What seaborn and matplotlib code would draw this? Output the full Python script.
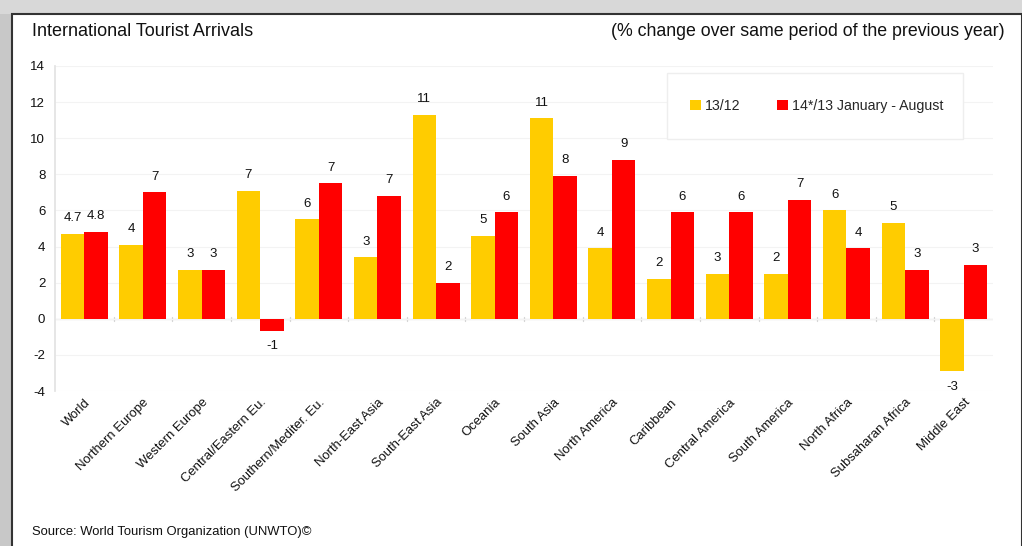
import matplotlib
matplotlib.use("Agg")
import matplotlib.pyplot as plt
import matplotlib.transforms as mtransforms
import seaborn as sns
import pandas as pd
from matplotlib.patches import Rectangle

categories = ["World", "Northern Europe", "Western Europe", "Central/Eastern Eu.",
              "Southern/Mediter. Eu.", "North-East Asia", "South-East Asia", "Oceania",
              "South Asia", "North America", "Caribbean", "Central America",
              "South America", "North Africa", "Subsaharan Africa", "Middle East"]
series_names = ["13/12", "14*/13 January - August"]
vals_1312 = [4.7, 4.1, 2.7, 7.1, 5.5, 3.4, 11.3, 4.6, 11.1, 3.9, 2.2, 2.5, 2.5, 6.0, 5.3, -2.9]
vals_1413 = [4.8, 7.0, 2.7, -0.65, 7.5, 6.8, 2.0, 5.9, 7.9, 8.8, 5.9, 5.9, 6.6, 3.9, 2.7, 3.0]
labels_1312 = ["4.7", "4", "3", "7", "6", "3", "11", "5", "11", "4", "2", "3", "2", "6", "5", "-3"]
labels_1413 = ["4.8", "7", "3", "-1", "7", "7", "2", "6", "8", "9", "6", "6", "7", "4", "3", "3"]
yticks = [-4, -2, 0, 2, 4, 6, 8, 10, 12, 14]

df = pd.DataFrame({
    "region": categories * 2,
    "series": [series_names[0]] * len(categories) + [series_names[1]] * len(categories),
    "value": vals_1312 + vals_1413,
})

sns.set_theme(style="white")
plt.rcParams["font.family"] = ["Liberation Sans", "DejaVu Sans"]

fig = plt.figure(figsize=(10.22, 5.46), dpi=100)
fig.patch.set_facecolor("white")

# screenshot-like frame with shadow
fig.add_artist(Rectangle((0, 0), 12 / 1022, 1, transform=fig.transFigure,
                         facecolor="#c8c8c8", edgecolor="none", zorder=-5))
fig.add_artist(Rectangle((0, 1 - 14 / 546), 1, 14 / 546, transform=fig.transFigure,
                         facecolor="#d8d8d8", edgecolor="none", zorder=-5))
fig.add_artist(Rectangle((12 / 1022, -0.01), 1010 / 1022, 1 - 14 / 546 + 0.01,
                         transform=fig.transFigure, facecolor="white",
                         edgecolor="#333333", linewidth=1.5, zorder=-4))

ax = fig.add_axes([55 / 1022, 1 - 391 / 546, (993 - 55) / 1022, (391 - 66) / 546])
ax.set_facecolor("none")
sns.barplot(data=df, x="region", y="value", hue="series", order=categories,
            hue_order=series_names, palette=["#FFCC00", "#FF0000"],
            width=0.8, saturation=1, ax=ax, edgecolor="none", legend=True)

for cont, labs in zip(ax.containers, [labels_1312, labels_1413]):
    ax.bar_label(cont, labels=labs, padding=7, fontsize=9.5, color="#111111")

ax.set_ylim(-4, 14)
ax.set_xlim(-0.5, len(categories) - 0.5)
ax.set_yticks(yticks)
ax.set_yticklabels([str(t) for t in yticks], fontsize=9.5, color="#111111")
ax.set_xlabel("")
ax.set_ylabel("")
ax.set_xticks(range(len(categories)))
ax.set_xticklabels(categories, rotation=45, ha="right", rotation_mode="anchor",
                   fontsize=9.4, color="#111111")
shift = mtransforms.ScaledTranslation(-6 / 100, 0, fig.dpi_scale_trans)
for lab in ax.get_xticklabels():
    lab.set_transform(lab.get_transform() + shift)
ax.tick_params(axis="x", length=0, pad=4)
ax.tick_params(axis="y", length=3, color="#dddddd", pad=4)
for s in ["top", "right", "bottom"]:
    ax.spines[s].set_visible(False)
ax.spines["left"].set_color("#e3e3e3")
ax.yaxis.grid(True, color="#f3f3f3", linewidth=0.8)
ax.set_axisbelow(True)
ax.axhline(0, color="#dddddd", linewidth=0.9, zorder=0.5)
for b in range(1, len(categories)):
    ax.plot([b - 0.5, b - 0.5], [-0.12, 0.12], color="#d5d5d5", linewidth=0.9, zorder=0.5)

# legend: box drawn separately, entries without frame, both at figure level
handles, labels = ax.get_legend_handles_labels()
ax.get_legend().remove()
fig.add_artist(Rectangle((667 / 1022, 1 - 139 / 546), (963 - 667) / 1022, (139 - 73) / 546,
                         transform=fig.transFigure, facecolor="white",
                         edgecolor="#eeeeee", linewidth=1, zorder=2))
leg = fig.legend(handles, labels, loc="center", bbox_to_anchor=(817 / 1022, 1 - 106 / 546),
                 ncol=2, frameon=False, fontsize=10.2,
                 handlelength=0.75, handleheight=0.75,
                 handletextpad=0.3, columnspacing=2.6, borderaxespad=0)
leg.set_zorder(3)

fig.text(32 / 1022, 1 - 32 / 546, "International Tourist Arrivals", fontsize=13,
         va="center", ha="left", color="#111111")
fig.text(1005 / 1022, 1 - 32 / 546, "(% change over same period of the previous year)",
         fontsize=12.8, va="center", ha="right", color="#111111")
fig.text(32 / 1022, 1 - 532 / 546, "Source: World Tourism Organization (UNWTO)\u00a9",
         fontsize=9.4, va="center", ha="left", color="#111111")

fig.savefig("out.png", dpi=100)
